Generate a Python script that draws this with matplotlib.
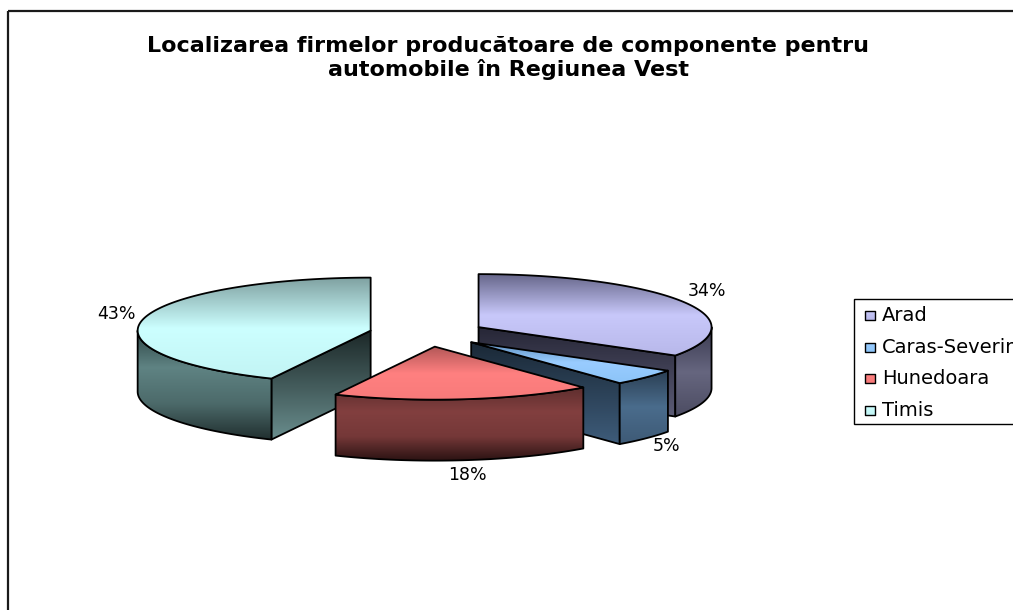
import numpy as np
import matplotlib.pyplot as plt
from matplotlib.patches import Polygon, Rectangle
from matplotlib.colors import LinearSegmentedColormap

plt.rcParams['font.family'] = ['DejaVu Sans']

# data
title = 'Localizarea firmelor producătoare de componente pentru\nautomobile în Regiunea Vest'
categories = ['Arad', 'Caras-Severin', 'Hunedoara', 'Timis']
values = [34, 5, 18, 43]

# gradient stops (top of face -> bottom of face)
top_cols = {
    'Arad': ['#66668a', '#c8c8fa', '#b8b8ea'],
    'Caras-Severin': ['#5f90c0', '#99ccff', '#8cc4f8'],
    'Hunedoara': ['#b45858', '#ff8080', '#f77a7a'],
    'Timis': ['#80a2a2', '#ccffff', '#c2f4f4'],
}
wall_cols = {
    'Arad': ['#3a3a50', '#66667f', '#4c4c62'],
    'Caras-Severin': ['#2a3e52', '#4a6c8c', '#3e5a76'],
    'Hunedoara': ['#5e2e2e', '#823f3f', '#753838', '#2a1212'],
    'Timis': ['#2e4646', '#5f8383', '#4c6a6a', '#202e2e'],
}
cut_cols = {
    'Arad': ['#262636', '#5c5c76'],
    'Caras-Severin': ['#1a2836', '#3e5c7a'],
    'Hunedoara': ['#4a1c1c', '#2a1010'],
    'Timis': ['#1c2828', '#6a8e8e'],
}

# geometry of the 3d pie in pixel units
CX, CY = 427.5, 333.5
RX, RY = 233.0, 53.0
DEPTH = 61.0
EXPLODE = 0.25

fig = plt.figure(figsize=(10.13, 6.10), dpi=100)
ax = fig.add_axes([0, 0, 1, 1])
ax.axis('off')


def rim(ox, oy, t, dy=0.0):
    r = np.radians(t)
    return np.column_stack([ox + RX * np.sin(r), oy - RY * np.cos(r) + dy])


def grad_fill(verts, colors, z, lw=1.3):
    verts = np.asarray(verts)
    poly = Polygon(verts, closed=True, facecolor='none', edgecolor='black',
                   lw=lw, zorder=z + 0.5, joinstyle='round')
    ax.add_patch(poly)
    x0, y0 = verts.min(0)
    x1, y1 = verts.max(0)
    cmap = LinearSegmentedColormap.from_list('g', colors)
    grad = np.linspace(0, 1, 256).reshape(-1, 1)
    im = ax.imshow(grad, cmap=cmap, extent=(x0, x1, y1, y0), aspect='auto',
                   zorder=z, interpolation='bilinear')
    im.set_clip_path(poly)


total = sum(values)
angles = np.concatenate([[0], np.cumsum(values)]) / total * 360

slices = []
for i, name in enumerate(categories):
    t0, t1 = angles[i], angles[i + 1]
    b = (t0 + t1) / 2
    ox = CX + EXPLODE * RX * np.sin(np.radians(b))
    oy = CY - EXPLODE * RY * np.cos(np.radians(b))
    slices.append((name, values[i], t0, t1, b, ox, oy))

# back slices first
order = sorted(slices, key=lambda s: -np.cos(np.radians(s[4])))

for rank, (name, v, t0, t1, b, ox, oy) in enumerate(order):
    z = 10 + rank * 10
    # radial cut faces
    for t, n in [(t0, t0 - 90), (t1, t1 + 90)]:
        if np.cos(np.radians(n)) < -1e-6:
            p = rim(ox, oy, t)[0]
            q = [(ox, oy), p, (p[0], p[1] + DEPTH), (ox, oy + DEPTH)]
            grad_fill(q, cut_cols[name], z)
    # outer wall, front part only
    a, e = max(t0, 90), min(t1, 270)
    if a < e:
        ts = np.linspace(a, e, 80)
        up = rim(ox, oy, ts)
        lo = rim(ox, oy, ts[::-1], DEPTH)
        grad_fill(np.vstack([up, lo]), wall_cols[name], z + 2)
    # top face
    ts = np.linspace(t0, t1, 120)
    topv = np.vstack([[ox, oy], rim(ox, oy, ts)])
    grad_fill(topv, top_cols[name], z + 4)

    # data label
    br = np.radians(b)
    lx = ox + 1.12 * RX * np.sin(br)
    ly = oy - 1.4 * RY * np.cos(br) + (0.9 * DEPTH if np.cos(br) < 0 else 0)
    ax.text(lx, ly, f'{v / total * 100:.0f}%', ha='center', va='center',
            fontsize=12.5, color='black', zorder=100)

# title
ax.text(508, 36, title, ha='center', va='top', fontsize=16,
        fontweight='bold', linespacing=1.2, zorder=100)

# legend
ax.add_patch(Rectangle((854, 299), 220, 125, facecolor='white',
                       edgecolor='black', lw=1.0, zorder=90))
for k, name in enumerate(categories):
    yc = 315.5 + k * 31.7
    sq = [(865, yc - 4.5), (875, yc - 4.5), (875, yc + 4.5), (865, yc + 4.5)]
    grad_fill(sq, top_cols[name][::-1][:2][::-1], 95, lw=1.0)
    ax.text(882, yc, name, ha='left', va='center', fontsize=14, zorder=100)

# chart frame
ax.add_patch(Rectangle((8, 11), 1200, 800, fill=False, edgecolor='#1a1a1a',
                       lw=1.6, zorder=120))

ax.set_xlim(0, 1013)
ax.set_ylim(610, 0)
fig.savefig('out.png', dpi=100)
